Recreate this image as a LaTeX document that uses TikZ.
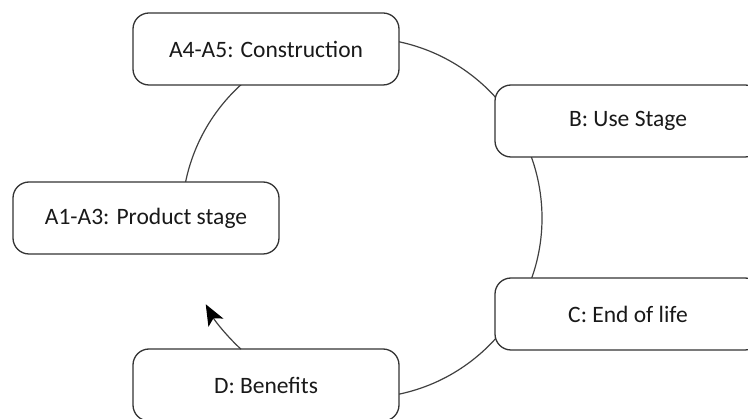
\documentclass[tikz,border=0pt]{standalone}
\usepackage{fontspec}
\setmainfont{Carlito}
\usetikzlibrary{arrows.meta}
\begin{document}
\begin{tikzpicture}[x=1pt,y=-1pt,
  stage/.style={draw=black!80, line width=1.3pt, fill=white,
    rounded corners=16pt, minimum width=266pt, minimum height=72pt,
    inner sep=0pt, font=\fontsize{23.5}{28}\selectfont, text=black!90},
  ring/.style={draw=black!75, line width=1.2pt}]
\useasboundingbox (0,0) rectangle (748,419);
\coordinate (ctr) at (362,218);
% the life-cycle ring, running clockwise behind the stage boxes
\draw[ring] (ctr) ++(175:180) arc[start angle=175, end angle=445, radius=180];
\node[stage] (a45) at (266,49) {A4-A5: Construction};
\node[stage] (b)   at (628,121) {B: Use Stage};
\node[stage] (a13) at (146,218) {A1-A3: Product stage};
\node[stage] (c)   at (628,314) {C: End of life};
\node[stage] (d)   at (266,385) {D: Benefits};
% loop back from benefits towards the product stage
\draw[ring, -{Stealth[length=21pt,width=17pt,inset=5pt,color=black,fill=black]}]
  (ctr) ++(132.7:178.5) arc[start angle=132.7, end angle=151.1, radius=178.5];
\end{tikzpicture}
\end{document}
